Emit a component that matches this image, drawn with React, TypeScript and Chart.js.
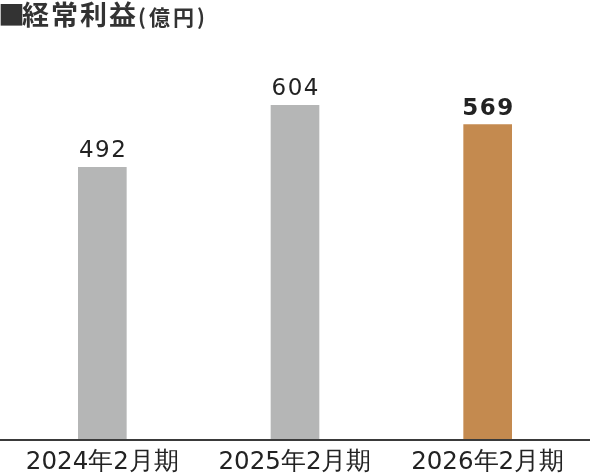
import React, { useEffect, useRef } from "react";
import { Chart, registerables } from "chart.js";

Chart.register(...registerables);

const categories: string[] = ["2024年2月期", "2025年2月期", "2026年2月期"];
const values: number[] = [492, 604, 569];
const barColors: string[] = ["#b5b6b6", "#b5b6b6", "#c48a4f"];
const boldLabel: boolean[] = [false, false, true];
const titleMark = "■";
const titleMain = "経常利益";
const titleUnit = "(億円)";

const valueLabelPlugin = {
  id: "valueLabels",
  afterDatasetsDraw(chart: any) {
    const ctx = chart.ctx;
    const meta = chart.getDatasetMeta(0);
    ctx.save();
    ctx.textAlign = "center";
    ctx.textBaseline = "alphabetic";
    ctx.fillStyle = "#222222";
    (ctx as any).letterSpacing = "1.5px";
    meta.data.forEach((bar: any, i: number) => {
      ctx.font = `${boldLabel[i] ? "bold " : ""}23px "DejaVu Sans", sans-serif`;
      ctx.fillText(String(values[i]), bar.x + 0.75, bar.y - 10);
    });
    ctx.restore();
  },
};

const baselinePlugin = {
  id: "baseline",
  afterDatasetsDraw(chart: any) {
    const ctx = chart.ctx;
    const y = chart.scales.y.getPixelForValue(0);
    ctx.save();
    ctx.strokeStyle = "#3a3a3a";
    ctx.lineWidth = 2;
    ctx.beginPath();
    ctx.moveTo(0, y);
    ctx.lineTo(chart.width, y);
    ctx.stroke();
    ctx.restore();
  },
};

export default function App() {
  const canvasRef = useRef<HTMLCanvasElement | null>(null);

  useEffect(() => {
    if (!canvasRef.current) return;
    const chart = new Chart(canvasRef.current, {
      type: "bar",
      data: {
        labels: categories,
        datasets: [
          {
            data: values,
            backgroundColor: barColors,
            borderWidth: 0,
            barThickness: 48,
          },
        ],
      },
      options: {
        animation: false,
        responsive: false,
        maintainAspectRatio: false,
        layout: { padding: { top: 52, left: 6, right: 6, bottom: -9 } },
        plugins: {
          legend: { display: false },
          tooltip: { enabled: false },
          title: { display: false },
        },
        scales: {
          x: {
            grid: { display: false, drawTicks: false },
            border: { display: false },
            ticks: {
              color: "#222222",
              font: { family: '"DejaVu Sans", sans-serif', size: 24.5, lineHeight: 0.4 },
              padding: 17.6,
              maxRotation: 0,
              autoSkip: false,
            },
          },
          y: {
            display: false,
            min: 0,
            max: 700,
          },
        },
      },
      plugins: [valueLabelPlugin, baselinePlugin],
    });
    return () => chart.destroy();
  }, []);

  return (
    <div style={{ position: "fixed", left: 0, top: 0, width: 590, height: 476, background: "#fff" }}>
      <canvas ref={canvasRef} width={590} height={476} style={{ position: "absolute", left: 0, top: 0, width: 590, height: 476 }} />
      <div
        style={{
          position: "absolute",
          left: -2,
          top: -4,
          color: "#333333",
          fontFamily: '"Noto Sans CJK JP", sans-serif',
          fontWeight: 700,
          whiteSpace: "nowrap",
          lineHeight: 1.3,
        }}
      >
        <span style={{ fontSize: 27, marginRight: -3 }}>{titleMark}</span>
        <span style={{ fontSize: 27, letterSpacing: 2 }}>{titleMain}</span>
        <span style={{ fontSize: 21, letterSpacing: 3 }}>{titleUnit}</span>
      </div>
    </div>
  );
}
